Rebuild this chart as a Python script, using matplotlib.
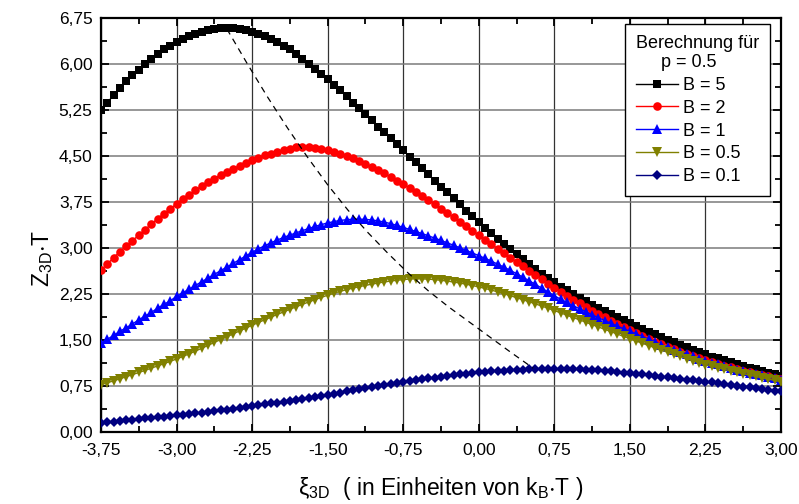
import numpy as np
import matplotlib.pyplot as plt
from matplotlib.ticker import MultipleLocator, FuncFormatter

plt.rcParams['font.family'] = ['Liberation Sans', 'DejaVu Sans']
plt.rcParams['mathtext.default'] = 'regular'

# xi_3D grid (units of k_B*T), 109 samples from -3.75 to 3.00
xi = np.linspace(-3.75, 3.0, 109)

# Z_3D*T for p = 0.5
z_b5 = [5.25, 5.37, 5.49, 5.61, 5.72, 5.82, 5.91, 6.00, 6.08, 6.16, 6.24, 6.30,
        6.36, 6.41, 6.46, 6.49, 6.52, 6.55, 6.57, 6.58, 6.58, 6.58, 6.57, 6.55,
        6.52, 6.49, 6.46, 6.41, 6.36, 6.30, 6.24, 6.16, 6.08, 6.00, 5.92, 5.83,
        5.75, 5.66, 5.57, 5.47, 5.37, 5.28, 5.18, 5.08, 4.98, 4.89, 4.79, 4.69,
        4.59, 4.49, 4.40, 4.30, 4.20, 4.10, 4.00, 3.91, 3.81, 3.71, 3.61, 3.52,
        3.42, 3.33, 3.24, 3.15, 3.06, 2.98, 2.90, 2.82, 2.74, 2.66, 2.58, 2.51,
        2.44, 2.37, 2.31, 2.25, 2.19, 2.13, 2.07, 2.02, 1.97, 1.92, 1.87, 1.82,
        1.78, 1.73, 1.68, 1.635, 1.59, 1.545, 1.50, 1.46, 1.42, 1.38, 1.34, 1.30,
        1.265, 1.23, 1.20, 1.17, 1.14, 1.11, 1.08, 1.05, 1.02, 0.99, 0.96, 0.94,
        0.91]
z_b2 = [2.64, 2.74, 2.84, 2.94, 3.03, 3.12, 3.21, 3.30, 3.39, 3.48, 3.56, 3.64,
        3.72, 3.80, 3.87, 3.94, 4.01, 4.07, 4.13, 4.19, 4.24, 4.29, 4.34, 4.39,
        4.43, 4.47, 4.51, 4.54, 4.57, 4.60, 4.62, 4.64, 4.65, 4.645, 4.635, 4.615,
        4.59, 4.57, 4.54, 4.505, 4.465, 4.42, 4.37, 4.32, 4.27, 4.215, 4.16, 4.10,
        4.04, 3.977, 3.912, 3.846, 3.779, 3.71, 3.64, 3.57, 3.50, 3.43, 3.355, 3.28,
        3.21, 3.137, 3.063, 2.99, 2.917, 2.843, 2.77, 2.70, 2.627, 2.557, 2.487, 2.418,
        2.35, 2.284, 2.22, 2.158, 2.097, 2.038, 1.98, 1.923, 1.868, 1.814, 1.762, 1.71,
        1.66, 1.612, 1.565, 1.519, 1.475, 1.432, 1.39, 1.35, 1.312, 1.275, 1.239, 1.204,
        1.17, 1.139, 1.109, 1.08, 1.052, 1.025, 1.00, 0.975, 0.951, 0.928, 0.905, 0.882,
        0.86]
z_b1 = [1.45, 1.51, 1.575, 1.64, 1.70, 1.76, 1.83, 1.89, 1.95, 2.02, 2.08, 2.14,
        2.21, 2.27, 2.33, 2.39, 2.45, 2.51, 2.57, 2.63, 2.69, 2.75, 2.81, 2.87,
        2.93, 2.985, 3.037, 3.085, 3.13, 3.172, 3.21, 3.247, 3.283, 3.318, 3.351, 3.382,
        3.408, 3.431, 3.449, 3.461, 3.468, 3.47, 3.466, 3.457, 3.442, 3.422, 3.397, 3.368,
        3.336, 3.303, 3.269, 3.234, 3.198, 3.161, 3.123, 3.084, 3.044, 3.003, 2.961, 2.918,
        2.875, 2.831, 2.785, 2.737, 2.687, 2.635, 2.581, 2.524, 2.466, 2.406, 2.345, 2.283,
        2.221, 2.165, 2.112, 2.06, 2.009, 1.959, 1.91, 1.863, 1.817, 1.772, 1.727, 1.683,
        1.64, 1.597, 1.555, 1.513, 1.465, 1.424, 1.383, 1.344, 1.306, 1.269, 1.233, 1.198,
        1.163, 1.132, 1.102, 1.073, 1.045, 1.018, 0.993, 0.968, 0.944, 0.921, 0.898, 0.876,
        0.854]
z_b05 = [0.77, 0.802, 0.834, 0.867, 0.901, 0.935, 0.97, 1.005, 1.041, 1.077, 1.114, 1.152,
         1.19, 1.231, 1.274, 1.319, 1.365, 1.412, 1.46, 1.507, 1.553, 1.60, 1.647, 1.693,
         1.74, 1.785, 1.829, 1.873, 1.916, 1.958, 2.00, 2.041, 2.081, 2.12, 2.158, 2.195,
         2.23, 2.263, 2.293, 2.321, 2.346, 2.369, 2.39, 2.41, 2.429, 2.446, 2.461, 2.474,
         2.485, 2.494, 2.498, 2.497, 2.492, 2.484, 2.473, 2.46, 2.445, 2.428, 2.409, 2.388,
         2.365, 2.34, 2.313, 2.284, 2.254, 2.222, 2.19, 2.157, 2.123, 2.088, 2.053, 2.017,
         1.98, 1.942, 1.904, 1.866, 1.828, 1.79, 1.75, 1.712, 1.674, 1.636, 1.597, 1.558,
         1.52, 1.482, 1.445, 1.408, 1.372, 1.336, 1.30, 1.265, 1.231, 1.197, 1.164, 1.132,
         1.10, 1.072, 1.046, 1.021, 0.997, 0.973, 0.95, 0.927, 0.905, 0.883, 0.862, 0.841,
         0.82]
z_b01 = [0.15, 0.16, 0.17, 0.18, 0.19, 0.20, 0.21, 0.22, 0.23, 0.24, 0.25, 0.26,
         0.27, 0.281, 0.292, 0.304, 0.316, 0.328, 0.34, 0.353, 0.366, 0.38, 0.393, 0.407,
         0.42, 0.435, 0.45, 0.465, 0.48, 0.495, 0.51, 0.526, 0.542, 0.559, 0.576, 0.593,
         0.61, 0.627, 0.643, 0.66, 0.677, 0.693, 0.71, 0.727, 0.743, 0.76, 0.777, 0.793,
         0.81, 0.826, 0.842, 0.857, 0.872, 0.886, 0.90, 0.913, 0.926, 0.938, 0.95, 0.961,
         0.97, 0.979, 0.987, 0.994, 1.0, 1.005, 1.01, 1.016, 1.021, 1.025, 1.029, 1.03,
         1.03, 1.029, 1.027, 1.024, 1.021, 1.016, 1.01, 1.003, 0.995, 0.987, 0.978, 0.969,
         0.96, 0.949, 0.938, 0.926, 0.914, 0.902, 0.89, 0.878, 0.867, 0.855, 0.843, 0.832,
         0.82, 0.807, 0.793, 0.78, 0.767, 0.753, 0.74, 0.727, 0.713, 0.70, 0.687, 0.673,
         0.66]

# line through the maxima of the curves
max_xi = [-2.50, -2.30, -2.10, -1.90, -1.70, -1.50, -1.30, -1.10, -0.90,
          -0.70, -0.50, -0.30, -0.10, 0.10, 0.30, 0.54]
max_z = [6.57, 6.01, 5.47, 4.96, 4.48, 4.03, 3.62, 3.25, 2.91,
         2.59, 2.30, 2.04, 1.80, 1.56, 1.32, 1.04]

series = [
    (z_b5, 'B = 5', 'black', 's', 5.8),
    (z_b2, 'B = 2', 'red', 'o', 6.2),
    (z_b1, 'B = 1', 'blue', '^', 6.8),
    (z_b05, 'B = 0.5', '#808000', 'v', 6.8),
    (z_b01, 'B = 0.1', '#000080', 'D', 5.4),
]

fig = plt.figure(figsize=(7.99, 5.04), dpi=100)
ax = fig.add_axes([0.1264, 0.1429, 0.8511, 0.8214])

lines = []
for z, lab, col, mk, ms in series:
    ln, = ax.plot(xi, z, color=col, lw=1.0, marker=mk, markersize=ms,
                  markeredgewidth=0, label=lab, zorder=3)
    lines.append(ln)

ax.plot(max_xi, max_z, color='black', lw=0.9, dashes=(5, 4), zorder=4)

ax.set_xlim(-3.75, 3.0)
ax.set_ylim(0, 6.75)
ax.xaxis.set_major_locator(MultipleLocator(0.75))
ax.xaxis.set_minor_locator(MultipleLocator(0.375))
ax.yaxis.set_major_locator(MultipleLocator(0.75))
ax.yaxis.set_minor_locator(MultipleLocator(0.375))
comma = FuncFormatter(lambda v, p: ('%.2f' % v).replace('.', ','))
ax.xaxis.set_major_formatter(comma)
ax.yaxis.set_major_formatter(comma)

ax.set_axisbelow(True)
ax.xaxis.grid(True, which='major', color='#333333', lw=0.9)
ax.yaxis.grid(True, which='major', color='#7a7a7a', lw=1.1)

ax.tick_params(which='both', direction='in', top=True, right=True,
               width=1.3, labelsize=12.5)
ax.tick_params(which='major', length=6)
ax.tick_params(axis='x', which='major', pad=8)
ax.tick_params(axis='y', which='major', pad=6)
ax.tick_params(which='minor', length=4)
for s in ax.spines.values():
    s.set_linewidth(1.6)

ax.set_xlabel(r'$\xi_{3D}$  ( in Einheiten von k$_{B}$$\cdot$T )', fontsize=16.5,
              labelpad=12)
ax.set_ylabel(r'Z$_{3D}$$\cdot$T', fontsize=16.5)
ax.yaxis.set_label_coords(-0.068, 0.42)

leg = ax.legend(handles=lines, title='Berechnung für\n     p = 0.5',
                loc='upper right', bbox_to_anchor=(0.984, 0.986),
                fontsize=13, title_fontsize=13, alignment='left',
                frameon=True, fancybox=False, edgecolor='black',
                framealpha=1, handlelength=2.3, labelspacing=0.32,
                handletextpad=0.3, borderpad=0.6, borderaxespad=0)
leg.get_frame().set_linewidth(1.0)

fig.savefig('out.png', dpi=100)
